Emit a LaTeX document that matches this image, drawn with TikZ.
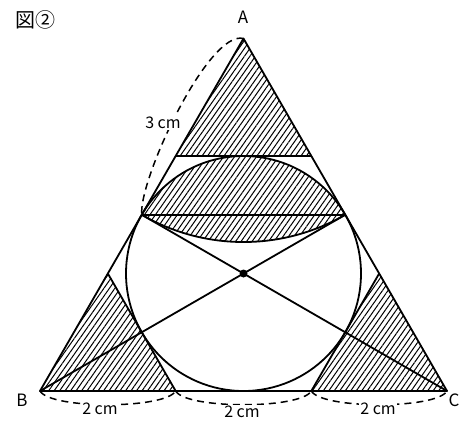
\documentclass[tikz,border=0pt]{standalone}
\usepackage{fontspec}
\newfontfamily\jp{Noto Sans CJK JP}
\usetikzlibrary{patterns.meta}
\begin{document}
\begin{tikzpicture}[x=1pt,y=1pt,
  edge/.style={line width=1.8pt, line join=round},
  hatch/.style={pattern={Lines[angle=55,distance=4.5pt,line width=1pt]}},
  dim/.style={line width=1.5pt, dash pattern=on 7pt off 5pt},
  lbl/.style={font=\jp\fontsize{17}{17}\selectfont, inner sep=1pt},
  dimlbl/.style={font=\jp\fontsize{16}{16}\selectfont, inner sep=1.5pt, fill=white}]
\useasboundingbox (0,0) rectangle (462,421);
\fill[white] (0,0) rectangle (462,421);
% points
\coordinate (B) at (40,30);
\coordinate (C) at (447,30);
\coordinate (A) at (243.5,382.47);
\coordinate (M1) at (141.75,206.24);
\coordinate (M2) at (345.25,206.24);
\coordinate (P1) at (175.67,264.98);
\coordinate (P2) at (311.33,264.98);
\coordinate (Q1) at (107.83,147.49);
\coordinate (Q2) at (379.17,147.49);
\coordinate (R1) at (175.67,30);
\coordinate (R2) at (311.33,30);
\coordinate (O) at (243.5,147.49);
% hatched regions
\fill[hatch] (A) -- (P1) -- (P2) -- cycle;
\fill[hatch] (B) -- (Q1) -- (R1) -- cycle;
\fill[hatch] (C) -- (Q2) -- (R2) -- cycle;
\fill[hatch] (M2) arc[start angle=30,end angle=150,radius=117.49]
             arc[start angle=240,end angle=300,radius=203.5] -- cycle;
% figure
\draw[edge] (O) circle[radius=117.49];
\draw[edge] (M1) arc[start angle=240,end angle=300,radius=203.5];
\draw[edge] (A) -- (B) -- (C) -- cycle;
\draw[edge] (P1) -- (P2);
\draw[edge] (Q1) -- (R1);
\draw[edge] (Q2) -- (R2);
\draw[edge] (M1) -- (M2);
\draw[edge] (B) -- (M2);
\draw[edge] (C) -- (M1);
\fill (O) circle[radius=4];
% dimension arcs
\draw[dim] (A) to[out=165,in=95,looseness=0.45] (M1);
\draw[dim] (B) to[out=-60,in=-120,looseness=0.4] (R1);
\draw[dim] (R1) to[out=-60,in=-120,looseness=0.4] (R2);
\draw[dim] (R2) to[out=-60,in=-120,looseness=0.4] (C);
% labels
\node[dimlbl] (l3) at (163,298) {3 cm};
\node[dimlbl] (l2a) at (100,12) {2 cm};
\node[dimlbl] (l2b) at (242,9) {2 cm};
\node[dimlbl] (l2c) at (378,12) {2 cm};
\node[lbl] (lA) at (243,404) {A};
\node[lbl] (lB) at (22,21) {B};
\node[lbl] (lC) at (454,21) {C};
\node[font=\jp\fontsize{20}{20}\selectfont, inner sep=0pt] (fig) at (35,401) {図②};
\end{tikzpicture}
\end{document}
